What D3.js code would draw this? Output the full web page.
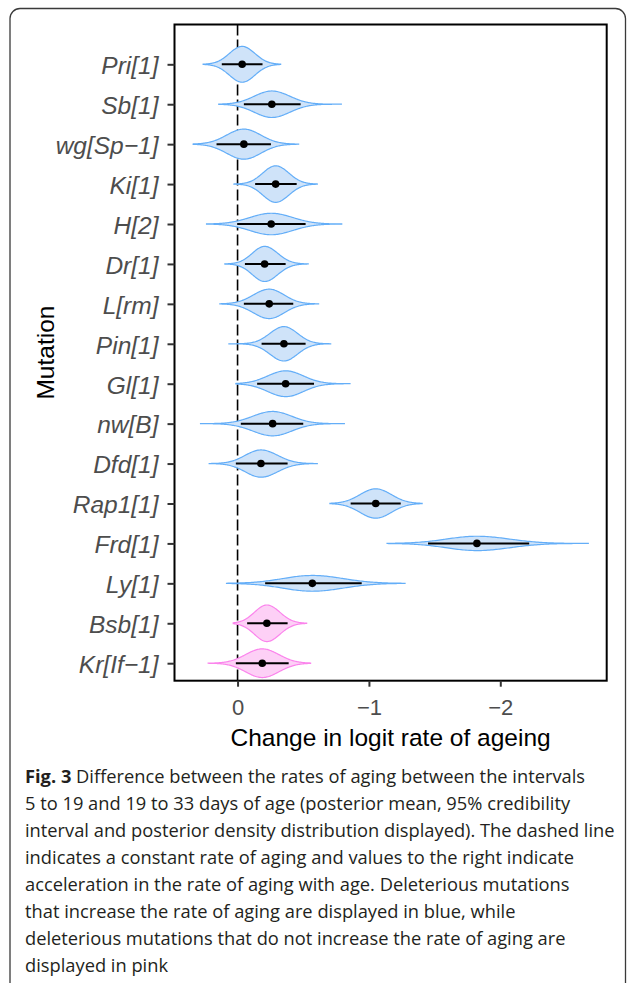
<!DOCTYPE html>
<meta charset="utf-8">
<head>
  <title>Change in logit rate of ageing</title>
</head>

<style>
body {
  margin: 0;
  background: #fff;
}
svg {
  display: block;
}
.ylab text {
  font-family: "Liberation Sans", Arial, sans-serif;
  font-style: italic;
  font-size: 24.5px;
  fill: #4d4d4d;
}
.xax text {
  font-family: "Liberation Sans", Arial, sans-serif;
  font-size: 22px;
  fill: #4d4d4d;
}
.title {
  font-family: "Liberation Sans", Arial, sans-serif;
  font-size: 24.5px;
  fill: #000;
}
.caption {
  font-family: "Open Sans", sans-serif;
  font-size: 18.3px;
  fill: #231f20;
}
</style>

<body>
<svg width="627" height="983"></svg>

<script src="https://cdnjs.cloudflare.com/ajax/libs/d3/7.8.5/d3.min.js"></script>
<script>

// mutations, top to bottom
var mutations = ['Pri[1]', 'Sb[1]', 'wg[Sp\u22121]', 'Ki[1]', 'H[2]', 'Dr[1]', 'L[rm]', 'Pin[1]',
  'Gl[1]', 'nw[B]', 'Dfd[1]', 'Rap1[1]', 'Frd[1]', 'Ly[1]', 'Bsb[1]', 'Kr[If\u22121]'];

// posterior mean
var means = [-0.035, -0.261, -0.048, -0.29, -0.256, -0.206, -0.241, -0.353,
  -0.366, -0.267, -0.178, -1.052, -1.822, -0.569, -0.223, -0.188];

// 95% credibility interval (left end / right end as drawn)
var ciLeft = [0.12, -0.048, 0.16, -0.134, 0.003, -0.056, -0.048, -0.183,
  -0.149, -0.025, 0.013, -0.861, -1.45, -0.21, -0.073, 0.013];
var ciRight = [-0.19, -0.48, -0.254, -0.45, -0.518, -0.366, -0.424, -0.518,
  -0.582, -0.5, -0.381, -1.242, -2.22, -0.945, -0.381, -0.389];

// range of the posterior samples (violin tails)
var tailLeft = [0.262, 0.143, 0.338, 0.028, 0.236, 0.097, 0.135, 0.066,
  0.013, 0.282, 0.216, -0.703, -1.138, 0.084, 0.033, 0.224];
var tailRight = [-0.328, -0.79, -0.465, -0.607, -0.793, -0.538, -0.617, -0.709,
  -0.856, -0.813, -0.607, -1.405, -2.67, -1.275, -0.526, -0.556];

// peak posterior density
var peaks = [5.0, 3.7, 4.2, 5.1, 3.0, 4.9, 4.1, 4.8, 3.6, 3.4, 3.8, 4.1, 2.0, 2.2, 5.1, 4.0];

// true = increases rate of ageing (blue), false = pink
var increases = [true, true, true, true, true, true, true, true,
  true, true, true, true, true, true, false, false];

var xTicks = [0, -1, -2];

var caption = [
  ' Difference between the rates of aging between the intervals',
  '5 to 19 and 19 to 33 days of age (posterior mean, 95% credibility',
  'interval and posterior density distribution displayed). The dashed line',
  'indicates a constant rate of aging and values to the right indicate',
  'acceleration in the rate of aging with age. Deleterious mutations',
  'that increase the rate of aging are displayed in blue, while',
  'deleterious mutations that do not increase the rate of aging are',
  'displayed in pink'
];

var rows = mutations.map(function(m, i) {
  return {name: m, mean: means[i], ciL: ciLeft[i], ciR: ciRight[i],
    tL: tailLeft[i], tR: tailRight[i], peak: peaks[i], inc: increases[i]};
});

var svg = d3.select('svg');

// outer figure frame
svg.append('rect')
  .attr('x', 10).attr('y', 8.5)
  .attr('width', 615.5).attr('height', 985)
  .attr('rx', 10)
  .style('fill', 'none')
  .style('stroke', '#3a3a3a')
  .style('stroke-width', 1.3);

var panel = {left: 174.5, right: 606.7, top: 24.5, bottom: 680.7};

var x = d3.scaleLinear()
  .domain([0.48, -2.81])
  .range([panel.left, panel.right]);

var y = d3.scalePoint()
  .domain(mutations)
  .range([64.3, 663.2]);

var w = d3.scaleLinear()
  .domain([0, 5.1])
  .range([0, 18.3]);

// zero line
svg.append('line')
  .attr('x1', x(0)).attr('x2', x(0))
  .attr('y1', panel.top).attr('y2', panel.bottom)
  .style('stroke', '#000')
  .style('stroke-width', 1.6)
  .style('stroke-dasharray', '11,4');

// violins
function profile(d) {
  var n = 120, pts = [];
  for (var k = 0; k <= n; k++) {
    var v = d.tL + (d.tR - d.tL) * k / n;
    var s = v > d.mean ? (d.ciL - d.mean) / 1.6 : (d.mean - d.ciR) / 1.6;
    var z = (v - d.mean) / s;
    pts.push([v, d.peak * Math.exp(-0.5 * z * z)]);
  }
  return pts;
}

var g = svg.selectAll('.mut')
  .data(rows)
  .enter()
  .append('g')
  .classed('mut', true);

g.append('path')
  .attr('d', function(d) {
    var cy = y(d.name);
    return d3.area()
      .x(function(p) { return x(p[0]); })
      .y0(function(p) { return cy - w(p[1]); })
      .y1(function(p) { return cy + w(p[1]); })
      .curve(d3.curveBasis)(profile(d));
  })
  .style('fill', function(d) { return d.inc ? '#cfe3f9' : '#fdd0f6'; })
  .style('stroke', function(d) { return d.inc ? '#64aef8' : '#fb84ec'; })
  .style('stroke-width', 1.2);

g.append('line')
  .attr('x1', function(d) { return x(d.ciL); })
  .attr('x2', function(d) { return x(d.ciR); })
  .attr('y1', function(d) { return y(d.name); })
  .attr('y2', function(d) { return y(d.name); })
  .style('stroke', '#000')
  .style('stroke-width', 2);

g.append('circle')
  .attr('cx', function(d) { return x(d.mean); })
  .attr('cy', function(d) { return y(d.name); })
  .attr('r', 3.8)
  .style('fill', '#000');

// panel border
svg.append('rect')
  .attr('x', panel.left).attr('y', panel.top)
  .attr('width', panel.right - panel.left)
  .attr('height', panel.bottom - panel.top)
  .style('fill', 'none')
  .style('stroke', '#000')
  .style('stroke-width', 2);

// axes
var yAxis = svg.append('g')
  .classed('ylab', true)
  .attr('transform', 'translate(' + panel.left + ',0)')
  .call(d3.axisLeft(y).tickSize(7).tickPadding(9));
yAxis.select('.domain').remove();
yAxis.selectAll('line').style('stroke', '#333').style('stroke-width', 2);
yAxis.selectAll('text').attr('dy', '0.38em');

var xAxis = svg.append('g')
  .classed('xax', true)
  .attr('transform', 'translate(0,' + panel.bottom + ')')
  .call(d3.axisBottom(x).tickValues(xTicks).tickSize(6).tickPadding(13)
    .tickFormat(function(d) { return d === 0 ? '0' : '\u2212' + Math.abs(d); }));
xAxis.select('.domain').remove();
xAxis.selectAll('line').style('stroke', '#333').style('stroke-width', 2);

svg.append('text')
  .classed('title', true)
  .attr('x', (panel.left + panel.right) / 2)
  .attr('y', 745.5)
  .attr('text-anchor', 'middle')
  .text('Change in logit rate of ageing');

svg.append('text')
  .classed('title', true)
  .attr('transform', 'translate(53.5,' + (panel.top + panel.bottom) / 2 + ') rotate(-90)')
  .attr('text-anchor', 'middle')
  .text('Mutation');

// caption
var cap = svg.append('text')
  .classed('caption', true);
caption.forEach(function(line, i) {
  var t = cap.append('tspan')
    .attr('x', 25)
    .attr('y', 783 + i * 27);
  if (i === 0) {
    t.append('tspan').style('font-weight', 'bold').text('Fig. 3');
    t.append('tspan').text(line);
  } else {
    t.text(line);
  }
});

</script>

</body>
</html>
